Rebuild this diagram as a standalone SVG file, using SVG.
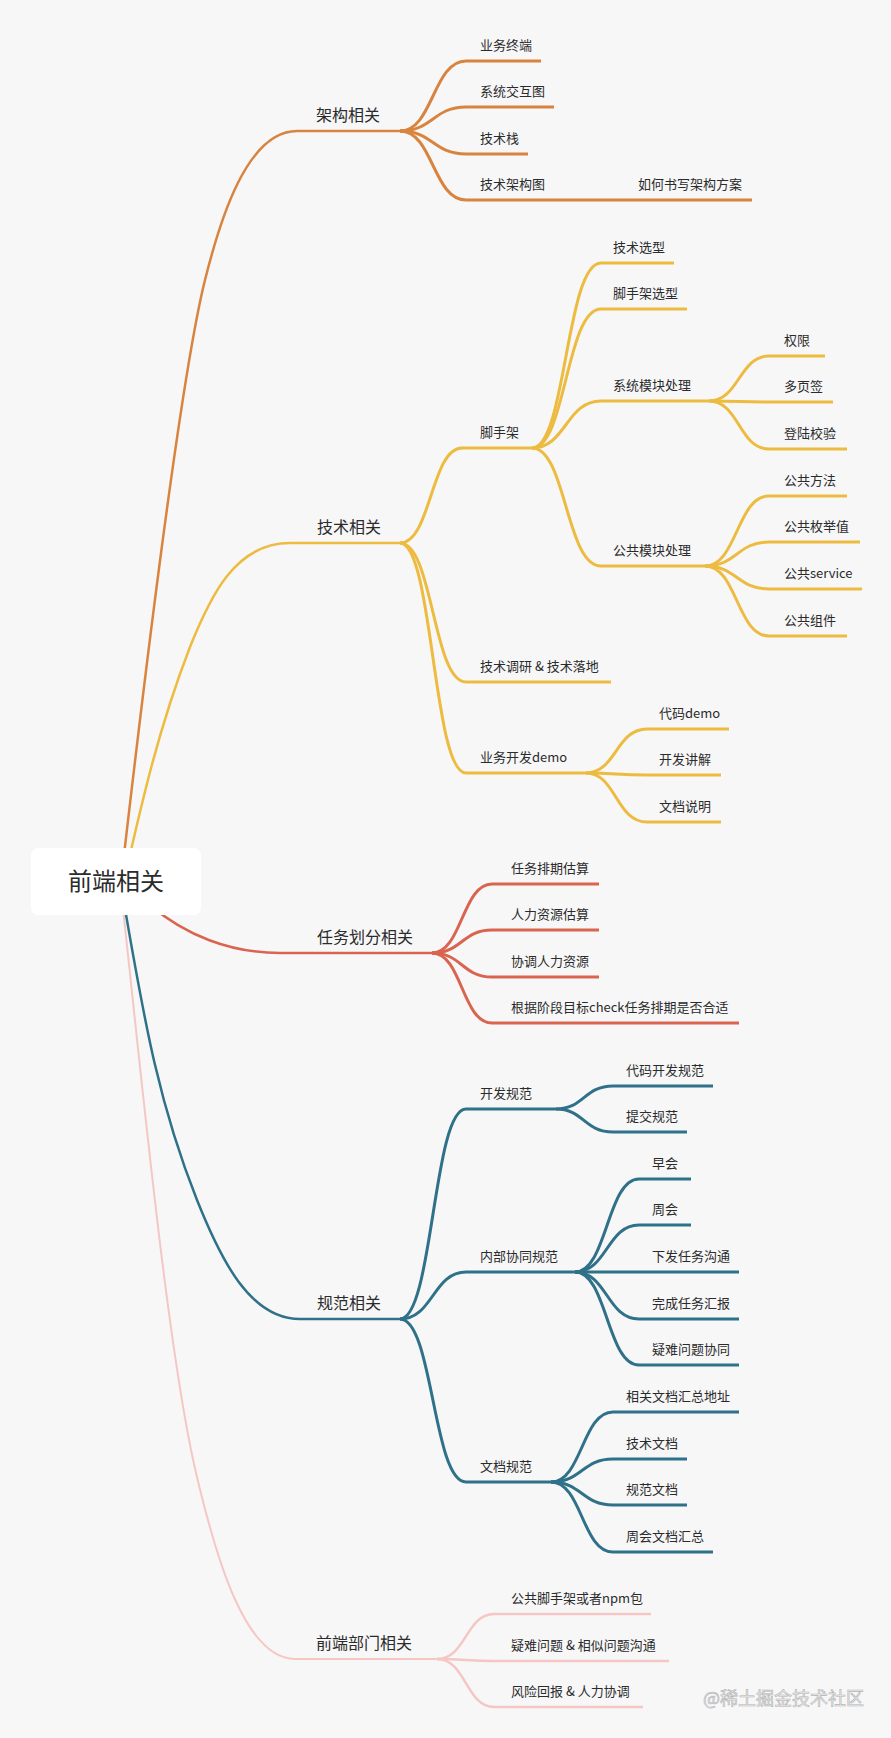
<svg xmlns="http://www.w3.org/2000/svg" width="891" height="1738" viewBox="0 0 891 1738">
<style>
text{font-family:"Noto Sans CJK SC","Noto Sans",sans-serif;fill:#2b2b2b}
.t1{font-size:16px}
.t2{font-size:13px}
.root{font-size:24px}
path{fill:none;stroke-linecap:butt}
.o{stroke:#d8843e}
.y{stroke:#edbb40}
.r{stroke:#d9644f}
.b{stroke:#2f7189}
.p{stroke:#f5c7c4}
.m{stroke-width:2.5}
.c{stroke-width:3}
.wm{font-size:18px;fill:#ececec;stroke:#b4b4b4;stroke-width:0.6}
</style>
<rect x="0" y="0" width="891" height="1738" fill="#f7f7f8"/>

<g id="connectors">
<path class="o m" d="M121,881 C144,681 180,380 205,280 C220,220 247,131 297,131 L400,131"/>
<path class="y m" d="M124,881 C142,801 159,727 190,647 C210,597 235,543 290,543 L400,543"/>
<path class="r m" d="M150,905 C185,935 230,953 280,953 L432,953"/>
<path class="b m" d="M120,881 C140,991 153,1090 197,1200 C221,1260 250,1319 300,1319 L400,1319"/>
<path class="p" stroke-width="2" d="M120,881 C142,1081 168,1357 197,1477 C216,1557 245,1659 295,1659 L437,1659"/>

<path class="o c" d="M400,131 C433,131 433,61 466,61 L541,61"/>
<path class="o c" d="M400,131 C433,131 433,107 466,107 L554,107"/>
<path class="o c" d="M400,131 C433,131 433,154 466,154 L528,154"/>
<path class="o c" d="M400,131 C433,131 433,200 466,200 L620,200"/>
<path class="o c" d="M620,200 L752,200"/>

<path class="y c" d="M400,543 C431,543 431,448 462,448 L532,448"/>
<path class="y c" d="M400,543 C433,543 433,682 466,682 L611,682"/>
<path class="y c" d="M400,543 C433,543 433,773 466,773 L586,773"/>
<path class="y c" d="M532,448 C566,448 566,263 601,263 L674,263"/>
<path class="y c" d="M532,448 C566,448 566,309 601,309 L687,309"/>
<path class="y c" d="M532,448 C566,448 566,401 601,401 L709,401"/>
<path class="y c" d="M532,448 C566,448 566,566 601,566 L705,566"/>
<path class="y c" d="M709,401 C739,401 739,356 769,356 L825,356"/>
<path class="y c" d="M709,401 C739,401 739,402 769,402 L833,402"/>
<path class="y c" d="M709,401 C739,401 739,449 769,449 L847,449"/>
<path class="y c" d="M705,566 C737,566 737,496 769,496 L847,496"/>
<path class="y c" d="M705,566 C737,566 737,542 769,542 L860,542"/>
<path class="y c" d="M705,566 C737,566 737,589 769,589 L862,589"/>
<path class="y c" d="M705,566 C737,566 737,636 769,636 L847,636"/>
<path class="y c" d="M586,773 C616,773 616,729 647,729 L729,729"/>
<path class="y c" d="M586,773 C616,773 616,775 647,775 L721,775"/>
<path class="y c" d="M586,773 C616,773 616,822 647,822 L721,822"/>

<path class="r c" d="M432,953 C462,953 462,884 492,884 L599,884"/>
<path class="r c" d="M432,953 C462,953 462,930 492,930 L599,930"/>
<path class="r c" d="M432,953 C462,953 462,977 492,977 L599,977"/>
<path class="r c" d="M432,953 C462,953 462,1023 492,1023 L739,1023"/>

<path class="b c" d="M400,1319 C433,1319 433,1109 466,1109 L556,1109"/>
<path class="b c" d="M400,1319 C433,1319 433,1272 466,1272 L575,1272"/>
<path class="b c" d="M400,1319 C433,1319 433,1482 466,1482 L551,1482"/>
<path class="b c" d="M556,1109 C584,1109 584,1086 613,1086 L713,1086"/>
<path class="b c" d="M556,1109 C584,1109 584,1132 613,1132 L687,1132"/>
<path class="b c" d="M575,1272 C607,1272 607,1179 639,1179 L691,1179"/>
<path class="b c" d="M575,1272 C607,1272 607,1225 639,1225 L691,1225"/>
<path class="b c" d="M575,1272 C607,1272 607,1272 639,1272 L739,1272"/>
<path class="b c" d="M575,1272 C607,1272 607,1319 639,1319 L739,1319"/>
<path class="b c" d="M575,1272 C607,1272 607,1365 639,1365 L739,1365"/>
<path class="b c" d="M551,1482 C582,1482 582,1412 613,1412 L739,1412"/>
<path class="b c" d="M551,1482 C582,1482 582,1459 613,1459 L687,1459"/>
<path class="b c" d="M551,1482 C582,1482 582,1505 613,1505 L687,1505"/>
<path class="b c" d="M551,1482 C582,1482 582,1552 613,1552 L713,1552"/>

<path class="p" stroke-width="2.5" d="M437,1659 C466,1659 466,1614 494,1614 L651,1614"/>
<path class="p" stroke-width="2.5" d="M437,1659 C466,1659 466,1661 494,1661 L669,1661"/>
<path class="p" stroke-width="2.5" d="M437,1659 C466,1659 466,1707 494,1707 L643,1707"/>
</g>

<g id="root">
<rect x="31" y="848" width="170" height="67" rx="7" fill="#ffffff"/>
<text class="root" x="116" y="890" text-anchor="middle">前端相关</text>
</g>

<g id="n-jiagou"><text class="t1" x="316" y="121">架构相关</text></g>
<g id="n-yewuzhongduan"><text class="t2" x="480" y="50">业务终端</text></g>
<g id="n-xitongjiaohu"><text class="t2" x="480" y="96">系统交互图</text></g>
<g id="n-jishuzhan"><text class="t2" x="480" y="143">技术栈</text></g>
<g id="n-jishujiagoutu"><text class="t2" x="480" y="189">技术架构图</text></g>
<g id="n-ruhe"><text class="t2" x="638" y="189">如何书写架构方案</text></g>

<g id="n-jishu"><text class="t1" x="317" y="533">技术相关</text></g>
<g id="n-jiaoshoujia"><text class="t2" x="480" y="437">脚手架</text></g>
<g id="n-jishuxuanxing"><text class="t2" x="613" y="252">技术选型</text></g>
<g id="n-jsjxuanxing"><text class="t2" x="613" y="298">脚手架选型</text></g>
<g id="n-xitongmokuai"><text class="t2" x="613" y="390">系统模块处理</text></g>
<g id="n-quanxian"><text class="t2" x="784" y="345">权限</text></g>
<g id="n-duoyeqian"><text class="t2" x="784" y="391">多页签</text></g>
<g id="n-denglu"><text class="t2" x="784" y="438">登陆校验</text></g>
<g id="n-gonggongmokuai"><text class="t2" x="613" y="555">公共模块处理</text></g>
<g id="n-ggff"><text class="t2" x="784" y="485">公共方法</text></g>
<g id="n-ggmj"><text class="t2" x="784" y="531">公共枚举值</text></g>
<g id="n-ggservice"><text class="t2" x="784" y="578">公共service</text></g>
<g id="n-ggzj"><text class="t2" x="784" y="625">公共组件</text></g>
<g id="n-diaoyan"><text class="t2" x="480" y="671" xml:space="preserve">技术调研 &amp; 技术落地</text></g>
<g id="n-ywdemo"><text class="t2" x="480" y="762">业务开发demo</text></g>
<g id="n-dmdemo"><text class="t2" x="659" y="718">代码demo</text></g>
<g id="n-kfjj"><text class="t2" x="659" y="764">开发讲解</text></g>
<g id="n-wdsm"><text class="t2" x="659" y="811">文档说明</text></g>

<g id="n-renwu"><text class="t1" x="317" y="943">任务划分相关</text></g>
<g id="n-rwpq"><text class="t2" x="511" y="873">任务排期估算</text></g>
<g id="n-rlzy"><text class="t2" x="511" y="919">人力资源估算</text></g>
<g id="n-xtrl"><text class="t2" x="511" y="966">协调人力资源</text></g>
<g id="n-genju"><text class="t2" x="511" y="1012">根据阶段目标check任务排期是否合适</text></g>

<g id="n-guifan"><text class="t1" x="317" y="1309">规范相关</text></g>
<g id="n-kfgf"><text class="t2" x="480" y="1098">开发规范</text></g>
<g id="n-dmkfgf"><text class="t2" x="626" y="1075">代码开发规范</text></g>
<g id="n-tjgf"><text class="t2" x="626" y="1121">提交规范</text></g>
<g id="n-nbxt"><text class="t2" x="480" y="1261">内部协同规范</text></g>
<g id="n-zaohui"><text class="t2" x="652" y="1168">早会</text></g>
<g id="n-zhouhui"><text class="t2" x="652" y="1214">周会</text></g>
<g id="n-xfrw"><text class="t2" x="652" y="1261">下发任务沟通</text></g>
<g id="n-wcrw"><text class="t2" x="652" y="1308">完成任务汇报</text></g>
<g id="n-yinan"><text class="t2" x="652" y="1354">疑难问题协同</text></g>
<g id="n-wdgf"><text class="t2" x="480" y="1471">文档规范</text></g>
<g id="n-xgwd"><text class="t2" x="626" y="1401">相关文档汇总地址</text></g>
<g id="n-jswd"><text class="t2" x="626" y="1448">技术文档</text></g>
<g id="n-gfwd"><text class="t2" x="626" y="1494">规范文档</text></g>
<g id="n-zhwd"><text class="t2" x="626" y="1541">周会文档汇总</text></g>

<g id="n-bumen"><text class="t1" x="316" y="1649">前端部门相关</text></g>
<g id="n-ggjsj"><text class="t2" x="511" y="1603">公共脚手架或者npm包</text></g>
<g id="n-ynwt"><text class="t2" x="511" y="1650">疑难问题 &amp; 相似问题沟通</text></g>
<g id="n-fxhb"><text class="t2" x="511" y="1696">风险回报 &amp; 人力协调</text></g>

<text class="wm" x="703" y="1705">@稀土掘金技术社区</text>
</svg>
